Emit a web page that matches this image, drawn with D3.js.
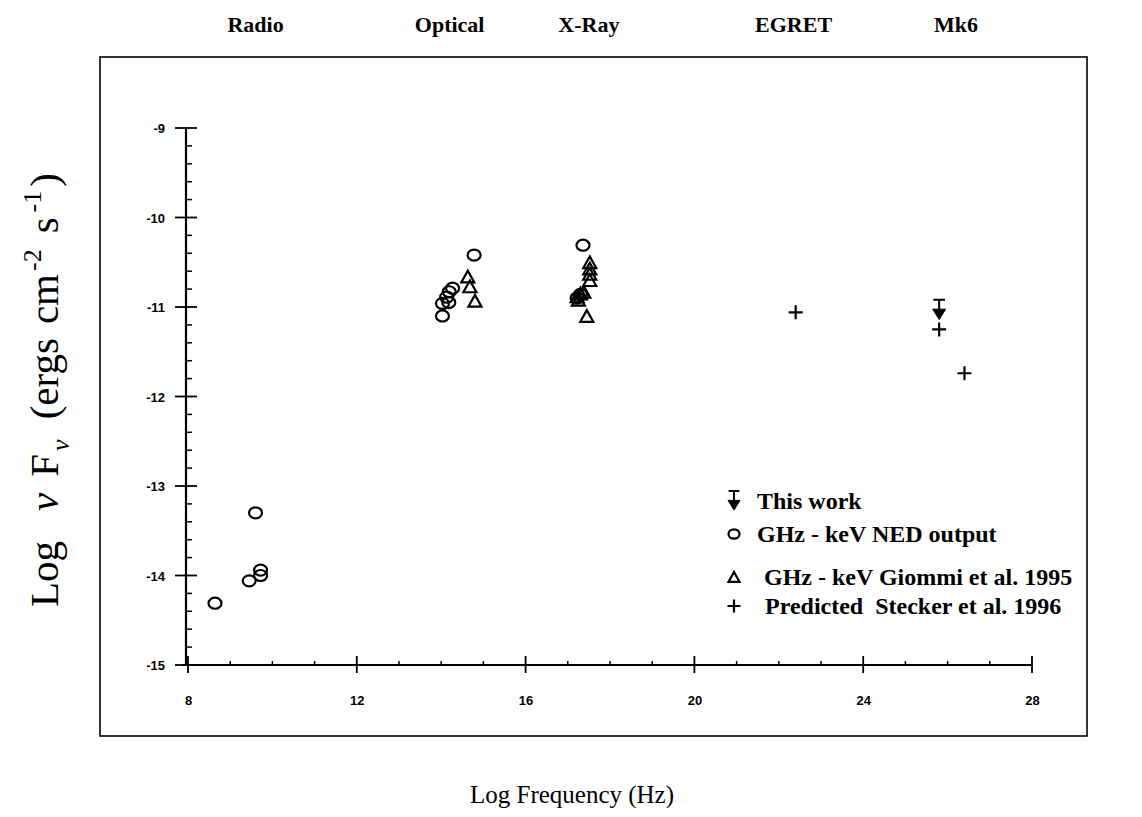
<!DOCTYPE html>
<html>
<head>
<meta charset="utf-8">
<script src="https://cdn.jsdelivr.net/npm/d3@7"></script>
<style>
  html, body { margin: 0; padding: 0; background: #fff; }
  svg { display: block; }
</style>
</head>
<body>
<svg id="chart" width="1142" height="817"></svg>
<script>
// Band labels along the top
const bands = [
  { name: "Radio", x: 9.6 },
  { name: "Optical", x: 14.2 },
  { name: "X-Ray", x: 17.5 },
  { name: "EGRET", x: 22.35 },
  { name: "Mk6", x: 26.2 }
];

// GHz - keV NED output (log nu, log nuFnu)
const nedX = [8.64, 9.45, 9.72, 9.72, 9.6, 14.03, 14.03, 14.13, 14.19, 14.27, 14.18, 14.78, 17.36, 17.22, 17.3];
const nedY = [-14.31, -14.06, -13.94, -14.0, -13.3, -11.1, -10.96, -10.89, -10.83, -10.79, -10.95, -10.42, -10.31, -10.9, -10.86];

// GHz - keV Giommi et al. 1995
const giommiX = [14.63, 14.68, 14.8, 17.52, 17.52, 17.52, 17.52, 17.22, 17.3, 17.38, 17.25, 17.45];
const giommiY = [-10.66, -10.77, -10.93, -10.5, -10.57, -10.63, -10.7, -10.88, -10.85, -10.83, -10.92, -11.1];

// Predicted, Stecker et al. 1996
const steckerX = [22.4, 25.8, 26.4];
const steckerY = [-11.06, -11.25, -11.74];

// This work: upper limit
const limitX = [25.8];
const limitY = [-10.92];

const xTicks = [8, 12, 16, 20, 24, 28];
const yTicks = [-9, -10, -11, -12, -13, -14, -15];

const legendItems = [
  { kind: "limit", label: "This work", dx: 0 },
  { kind: "circle", label: "GHz - keV NED output", dx: 0 },
  { kind: "triangle", label: "GHz - keV Giommi et al. 1995", dx: 7 },
  { kind: "plus", label: "Predicted\u00a0\u00a0Stecker et al. 1996", dx: 8 }
];

const svg = d3.select("#chart");
const serif = "'Liberation Serif', 'DejaVu Serif', serif";
const sans = "'Liberation Sans', Arial, sans-serif";

const x = d3.scaleLinear().domain([8, 28]).range([188, 1032]);
const y = d3.scaleLinear().domain([-15, -9]).range([665, 128]);

// Outer frame
svg.append("rect")
  .attr("x", 100).attr("y", 57)
  .attr("width", 987).attr("height", 679)
  .attr("fill", "none").attr("stroke", "#000").attr("stroke-width", 1.6);

// Band labels
svg.append("g").selectAll("text").data(bands).join("text")
  .attr("x", d => x(d.x)).attr("y", 32)
  .attr("text-anchor", "middle")
  .attr("font-family", serif).attr("font-weight", "bold").attr("font-size", 22)
  .text(d => d.name);

const ink = "#000";
const axisG = svg.append("g");

// x axis: labels from d3.axisBottom, ticks drawn in the plot's own style
const xAxis = d3.axisBottom(x).tickValues(xTicks).tickSize(0).tickPadding(0).tickFormat(d3.format("d"));
const gx = axisG.append("g").attr("transform", `translate(0,${y(-15)})`).call(xAxis);
gx.select(".domain").remove();
gx.selectAll("text")
  .attr("dy", 0).attr("y", 40)
  .attr("font-family", sans).attr("font-weight", "bold").attr("font-size", 13).attr("fill", ink);
axisG.append("line")
  .attr("x1", x(8) - 6).attr("x2", x(28)).attr("y1", y(-15)).attr("y2", y(-15))
  .attr("stroke", ink).attr("stroke-width", 2.2);
axisG.append("g").selectAll("line").data(xTicks).join("line")
  .attr("x1", d => x(d)).attr("x2", d => x(d))
  .attr("y1", y(-15) - 9).attr("y2", y(-15) + 8)
  .attr("stroke", ink).attr("stroke-width", 1.8);
axisG.append("g").selectAll("line").data(d3.range(9, 28).filter(v => v % 4 !== 0)).join("line")
  .attr("x1", d => x(d)).attr("x2", d => x(d))
  .attr("y1", y(-15) - 4).attr("y2", y(-15))
  .attr("stroke", ink).attr("stroke-width", 1.5);

// y axis
const yx = x(8) - 2;
const yAxis = d3.axisLeft(y).tickValues(yTicks).tickSize(0).tickPadding(0).tickFormat(d3.format("d"));
const gy = axisG.append("g").attr("transform", `translate(${yx},0)`).call(yAxis);
gy.select(".domain").remove();
gy.selectAll("text")
  .attr("x", -21).attr("dy", "0.35em")
  .attr("font-family", sans).attr("font-weight", "bold").attr("font-size", 13).attr("fill", ink)
  .text(d => "-" + Math.abs(d));
axisG.append("line")
  .attr("x1", yx).attr("x2", yx).attr("y1", y(-9)).attr("y2", y(-15))
  .attr("stroke", ink).attr("stroke-width", 2.2);
axisG.append("g").selectAll("line").data(yTicks).join("line")
  .attr("x1", yx - 11).attr("x2", yx + 11)
  .attr("y1", d => y(d)).attr("y2", d => y(d))
  .attr("stroke", ink).attr("stroke-width", 1.8);
const yMinor = d3.range(-15, -9, 0.2).map(v => Math.round(v * 10) / 10).filter(v => Math.abs(v - Math.round(v)) > 0.01);
axisG.append("g").selectAll("line").data(yMinor).join("line")
  .attr("x1", yx).attr("x2", yx + 6)
  .attr("y1", d => y(d)).attr("y2", d => y(d))
  .attr("stroke", ink).attr("stroke-width", 1.5);

// Marker drawers
function drawCircle(g, cx, cy, r) {
  g.append("ellipse").attr("cx", cx).attr("cy", cy).attr("rx", r).attr("ry", r * 0.85)
    .attr("fill", "none").attr("stroke", ink).attr("stroke-width", 2.2);
}
function drawTriangle(g, cx, cy, s) {
  const h = s * 0.9;
  g.append("path")
    .attr("d", `M${cx},${cy - h / 2}L${cx + s / 2},${cy + h / 2}L${cx - s / 2},${cy + h / 2}Z`)
    .attr("fill", "none").attr("stroke", ink).attr("stroke-width", 2.2).attr("stroke-linejoin", "miter");
}
function drawPlus(g, cx, cy, s) {
  g.append("path")
    .attr("d", `M${cx - s / 2},${cy}H${cx + s / 2}M${cx},${cy - s / 2}V${cy + s / 2}`)
    .attr("stroke", ink).attr("stroke-width", 2.2);
}
function drawLimit(g, cx, cy, len, w) {
  g.append("path")
    .attr("d", `M${cx - w * 0.45},${cy}H${cx + w * 0.45}M${cx},${cy}V${cy + len - w * 0.7}`)
    .attr("stroke", ink).attr("stroke-width", 2);
  g.append("path")
    .attr("d", `M${cx - w / 2},${cy + len - w * 0.8}L${cx + w / 2},${cy + len - w * 0.8}L${cx},${cy + len}Z`)
    .attr("fill", ink).attr("stroke", ink).attr("stroke-width", 1);
}

const marks = svg.append("g");
nedX.forEach((v, i) => drawCircle(marks, x(v), y(nedY[i]), 6.5));
giommiX.forEach((v, i) => drawTriangle(marks, x(v), y(giommiY[i]), 13));
steckerX.forEach((v, i) => drawPlus(marks, x(v), y(steckerY[i]), 14));
limitX.forEach((v, i) => drawLimit(marks, x(v), y(limitY[i]), y(limitY[i] - 0.22) - y(limitY[i]), 13));

// Legend
const legendBase = [509, 542, 585, 614];
const leg = svg.append("g");
legendItems.forEach((d, i) => {
  const base = legendBase[i];
  const cx = 734;
  const cy = base - 8;
  if (d.kind === "limit") drawLimit(leg, cx, cy - 10, 19, 12);
  if (d.kind === "circle") drawCircle(leg, cx, cy, 5.5);
  if (d.kind === "triangle") drawTriangle(leg, cx, cy, 11);
  if (d.kind === "plus") drawPlus(leg, cx, cy, 13);
  leg.append("text")
    .attr("x", 757 + d.dx).attr("y", base)
    .attr("font-family", serif).attr("font-weight", "bold").attr("font-size", 24)
    .text(d.label);
});

// Axis titles
svg.append("text")
  .attr("x", 572).attr("y", 803)
  .attr("text-anchor", "middle")
  .attr("font-family", serif).attr("font-size", 25)
  .text("Log Frequency (Hz)");

const yt = svg.append("text")
  .attr("transform", "translate(58,390) rotate(-90)")
  .attr("text-anchor", "middle")
  .attr("font-family", serif).attr("font-size", 41);
yt.append("tspan").text("Log");
yt.append("tspan").attr("dx", 30).attr("font-style", "italic").text("ν");
yt.append("tspan").attr("dx", 16).text("F");
yt.append("tspan").attr("font-style", "italic").attr("font-size", 26).attr("dy", 11).attr("dx", 3).text("ν");
yt.append("tspan").attr("dy", -11).attr("dx", 20).text("(ergs");
yt.append("tspan").attr("dx", 14).text("cm");
yt.append("tspan").attr("font-size", 26).attr("dy", -17).attr("dx", 3).text("-2");
yt.append("tspan").attr("dy", 17).attr("dx", 16).text("s");
yt.append("tspan").attr("font-size", 26).attr("dy", -17).attr("dx", 5).text("-1");
yt.append("tspan").attr("dy", 17).attr("dx", 4).text(")");
</script>
</body>
</html>
